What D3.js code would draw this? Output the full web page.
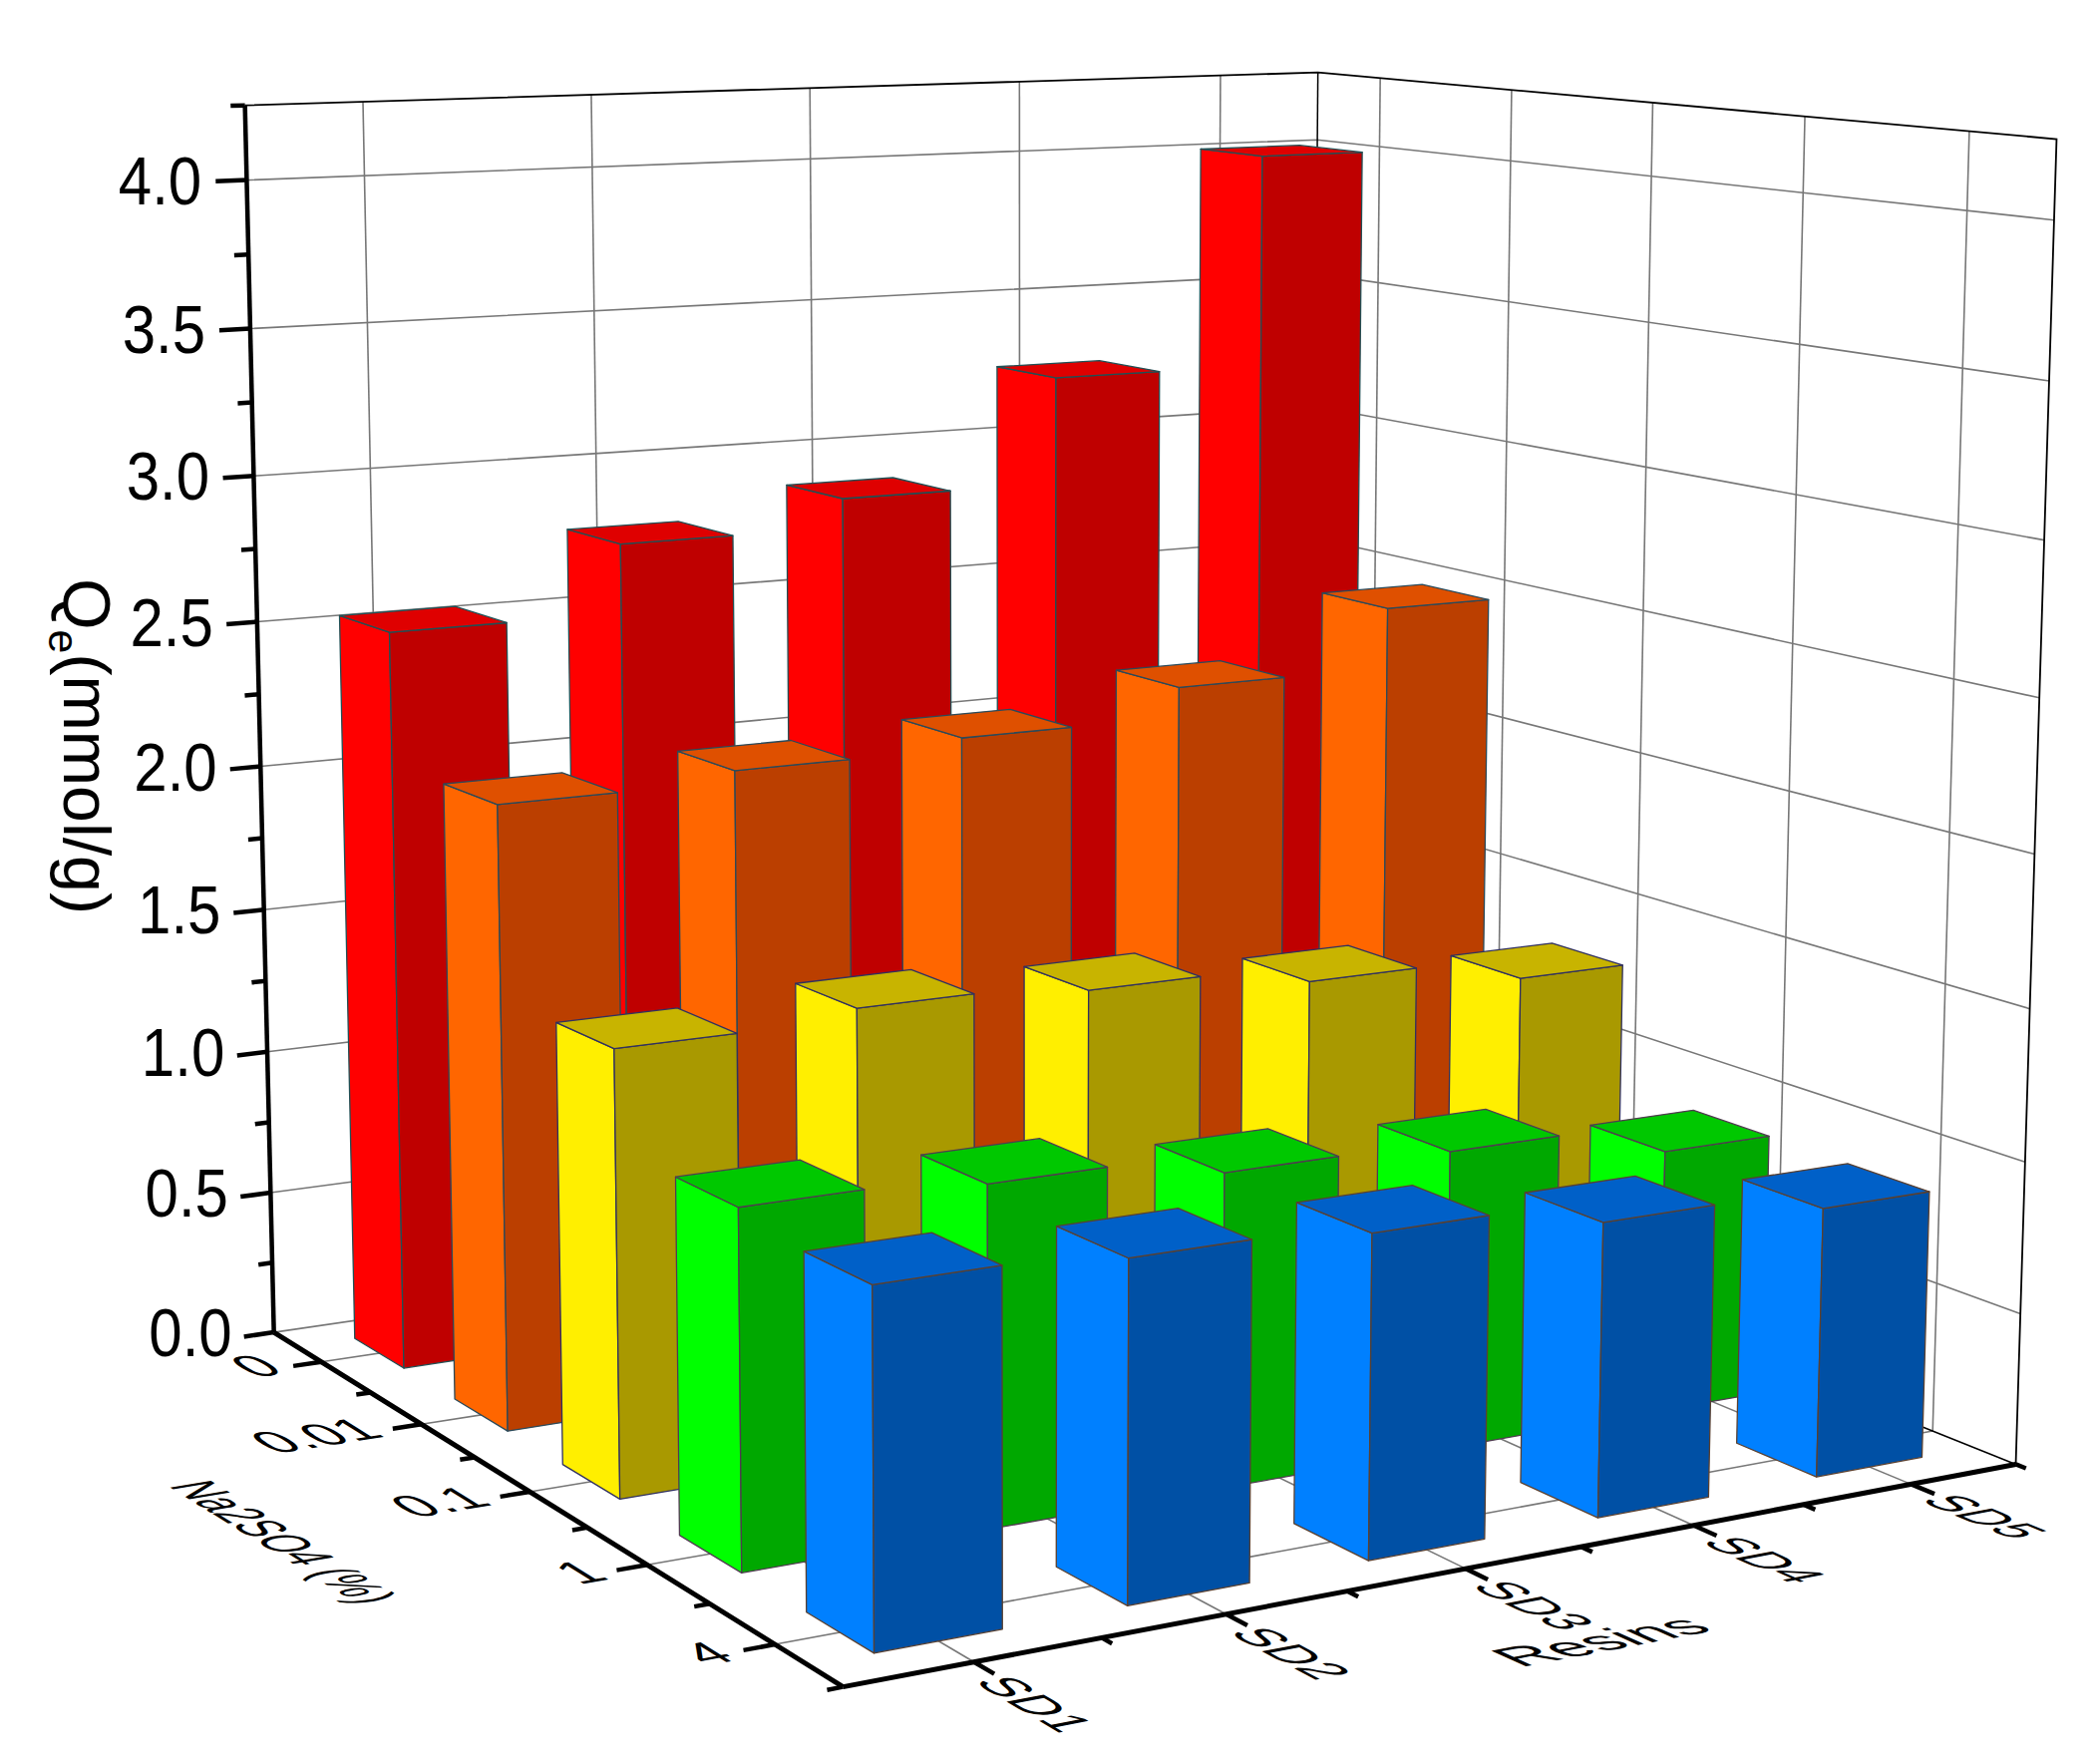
<!DOCTYPE html>
<html><head><meta charset="utf-8"><script src="https://cdn.jsdelivr.net/npm/d3@7"></script>
<style>html,body{margin:0;background:#fff}text{font-family:"Liberation Sans",Arial,sans-serif;fill:#000}</style></head>
<body><svg id="c" width="2106" height="1768"></svg>
<script>
const resins=["SD1","SD2","SD3","SD4","SD5"];
const conc=["0","0.01","0.1","1","4"];
const zTicks=[0,.5,1,1.5,2,2.5,3,3.5,4];
const q0=[2.533,2.771,2.872,3.247,3.999];
const q001=[2.087,2.122,2.158,2.261,2.472];
const q01=[1.453,1.487,1.452,1.389,1.308];
const q1=[1.137,1.100,1.028,0.990,0.884];
const q4=[1.100,1.064,1.027,0.949,0.883];
const series=[q0,q001,q01,q1,q4];
const colors=[["#ff0000","#bf0000","#df0000"],["#ff6600","#bb3f00","#df5000"],["#ffef00","#a99900","#c8b400"],["#00ff00","#00a800","#00c800"],["#0080ff","#0050a5","#0060c8"]];
const edges=["#205055","#2a4a5a","#303060","#503c50","#5a4030"];

// world scales
const sx=d3.scalePoint(resins,[0,4]), sy=d3.scalePoint(conc,[0,4]), sz=d3.scaleLinear([0,4.25],[0,4.25]);
const xMin=-.5,xMax=4.5,yMin=-.5,yMax=4.5,zMax=sz(4.25);

// camera: perspective matrix fitted to the box edges and tick positions seen in the picture
const S=1.3431;
const cal=[
[-.5,-.5,0,204,993.5],[-.5,4.5,0,629,1260],[4.5,4.5,0,1506,1093],[-.5,-.5,4.25,182,78],[4.5,-.5,4.25,983.5,53.7],[4.5,4.5,4.25,1536,103],
[-.5,-.5,4,184.5,135],[-.5,-.5,3.5,187,245],[-.5,-.5,3,190,355],[-.5,-.5,2.5,193,464],[-.5,-.5,.5,202,891],[-.5,-.5,1,199.5,786],
[4.5,-.5,4,983.5,105],[4.5,4.5,4,1534,165],[4.5,4.5,3.5,1530,285],[4.5,4.5,3,1526,403.6],[4.5,4.5,2.5,1522.6,521],
[-.5,0,0,240,1017],[-.5,1,0,313.5,1064],[-.5,2,0,397,1115],[-.5,3,0,484,1168],[-.5,4,0,580,1228],
[0,4.5,0,725,1241],[1,4.5,0,915,1204],[2,4.5,0,1094,1171],[3,4.5,0,1265,1139],[4,4.5,0,1427,1108]];
function fitCamera(){
 const A=[],B=[];
 cal.forEach(([X,Y,Z,u,v])=>{u=u*S/1000;v=v*S/1000;
  A.push([X,Y,Z,1,0,0,0,0,-u*X,-u*Y,-u*Z]);B.push(u);
  A.push([0,0,0,0,X,Y,Z,1,-v*X,-v*Y,-v*Z]);B.push(v);});
 const n=11,M=[];
 for(let i=0;i<n;i++){M.push(new Array(n+1).fill(0));for(let j=0;j<n;j++)for(let k=0;k<A.length;k++)M[i][j]+=A[k][i]*A[k][j];for(let k=0;k<A.length;k++)M[i][n]+=A[k][i]*B[k];}
 for(let i=0;i<n;i++){let p=i;for(let r=i;r<n;r++)if(Math.abs(M[r][i])>Math.abs(M[p][i]))p=r;[M[i],M[p]]=[M[p],M[i]];
  for(let r=0;r<n;r++)if(r!=i){const f=M[r][i]/M[i][i];for(let c=i;c<=n;c++)M[r][c]-=f*M[i][c];}}
 return M.map((r,i)=>r[n]/r[i]);
}
const p=fitCamera();
const P=(X,Y,Z)=>{const w=p[8]*X+p[9]*Y+p[10]*Z+1;return [1000*(p[0]*X+p[1]*Y+p[2]*Z+p[3])/w,1000*(p[4]*X+p[5]*Y+p[6]*Z+p[7])/w];};

const svg=d3.select("#c"),line=d3.line();
const L=(pts,st,w)=>svg.append("path").attr("d",line(pts)).attr("fill","none").attr("stroke",st).attr("stroke-width",w);
const g="#777";
// grid
zTicks.filter(z=>z>0).forEach(z=>L([P(xMin,yMin,sz(z)),P(xMax,yMin,sz(z)),P(xMax,yMax,sz(z))],g,1.6));
resins.forEach(r=>{const x=sx(r);L([P(x,yMin,0),P(x,yMin,zMax)],g,1.6);L([P(x,yMin,0),P(x,yMax,0)],g,1.6);});
conc.forEach(c=>{const y=sy(c);L([P(xMax,y,0),P(xMax,y,zMax)],g,1.6);L([P(xMin,y,0),P(xMax,y,0)],g,1.6);});
L([P(xMin,yMin,zMax),P(xMax,yMin,zMax),P(xMax,yMax,zMax),P(xMax,yMax,0)],"#000",1.8);
L([P(xMax,yMin,0),P(xMax,yMin,zMax)],"#000",1.5);L([P(xMin,yMin,0),P(xMax,yMin,0)],g,1.6);L([P(xMax,yMin,0),P(xMax,yMax,0)],"#000",1.5);
// bars, back row first, far column first
const b=.25;
series.forEach((row,yi)=>{const yc=sy(conc[yi]);
 for(let xi=row.length-1;xi>=0;xi--){const z=sz(row[xi]),xc=sx(resins[xi]),x0=xc-b,x1=xc+b,y0=yc-b,y1=yc+b;
  const F=(pts,c)=>svg.append("path").attr("d",line(pts)+"Z").attr("fill",c).attr("stroke",edges[yi]).attr("stroke-width",1.3).attr("stroke-linejoin","round");
  F([P(x0,y0,0),P(x0,y1,0),P(x0,y1,z),P(x0,y0,z)],colors[yi][0]);
  F([P(x0,y1,0),P(x1,y1,0),P(x1,y1,z),P(x0,y1,z)],colors[yi][1]);
  F([P(x0,y0,z),P(x1,y0,z),P(x1,y1,z),P(x0,y1,z)],colors[yi][2]);}});
// axes
L([P(xMin,yMin,0),P(xMin,yMin,zMax)],"#000",4.5);L([P(xMin,yMin,0),P(xMin,yMax,0)],"#000",5);L([P(xMin,yMax,0),P(xMax,yMax,0)],"#000",5);
d3.range(0,4.26,.25).forEach(z=>{const maj=z*2%1==0;L([P(xMin,yMin,sz(z)),P(xMin-(maj?.13:.06),yMin,sz(z))],"#000",4.5);});
zTicks.forEach(z=>{const q=P(xMin,yMin,sz(z));svg.append("text").attr("transform",`translate(${q[0]-42-z*.8},${q[1]+24}) scale(1,1.13)`).attr("text-anchor","end").attr("font-size",60).text(z.toFixed(1));});
const unit=(a,b)=>{const d=[b[0]-a[0],b[1]-a[1]],n=Math.hypot(d[0],d[1]);return [d[0]/n,d[1]/n];};
function T(txt,at,base,up,eb,ep,anchor){svg.append("text").attr("transform",`matrix(${base[0]*eb/100},${base[1]*eb/100},${-up[0]*ep/100},${-up[1]*ep/100},${at[0]},${at[1]})`).attr("font-size",100).attr("text-anchor",anchor).text(txt);}
d3.range(0,4.5,.5).forEach(v=>{const m=v%1==0;
 L([P(xMin,v,0),P(xMin-(m?.12:.06),v,0)],"#000",4.5);L([P(v,yMax,0),P(v,yMax+(m?.14:.07),0)],"#000",4.5);});
conc.forEach(c=>{const v=sy(c);T(c,P(xMin-.18,v+.08,0),unit(P(xMin,v,0),P(xMin+1,v,0)),unit(P(xMin,v,0),P(xMin,v-1,0)),58,52,"end");});
resins.forEach(r=>{const v=sx(r);T(r,P(v-.1,yMax+.17,0),unit(P(v,yMax-1,0),P(v,yMax,0)),unit(P(v,yMax,0),P(v+1,yMax,0)),53,55,"start");});
L([P(xMin,yMax,0),P(xMin-.06,yMax,0)],"#000",4.5);L([P(xMax,yMax,0),P(xMax,yMax+.06,0)],"#000",4.5);
T("Resins",[1525,1672],unit(P(0,yMax,0),P(4,yMax,0)),unit(P(3,yMax,0),P(3,yMax-1,0)),65,55,"start");
T("Na2SO4 (%)",[168,1490],unit(P(xMin,2,0),P(xMin,4,0)),unit(P(xMin,2,0),P(xMin+1,2,0)),40,60,"start");
const yt=svg.append("text").attr("transform",`translate(64,580) rotate(90) scale(1.07,1.08)`).attr("font-size",62);
yt.append("tspan").text("Q");yt.append("tspan").attr("font-size",40).attr("dy",14).text("e");yt.append("tspan").attr("dy",-14).text("(mmol/g)");
</script></body></html>
